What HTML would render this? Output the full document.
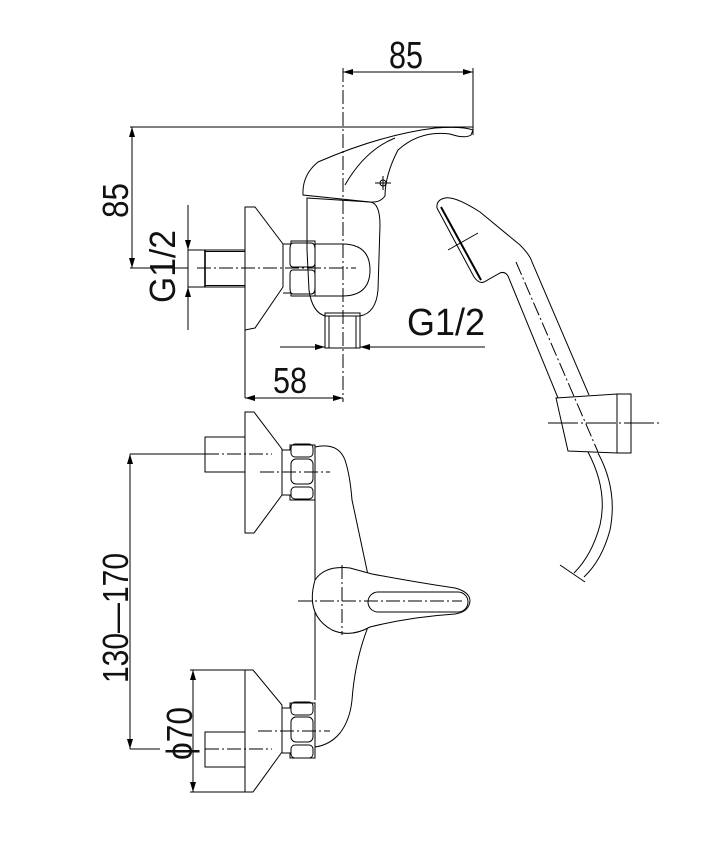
<!DOCTYPE html>
<html><head><meta charset="utf-8"><style>
html,body{margin:0;padding:0;background:#fff;}
svg{display:block;}
text{font-family:"Liberation Sans",sans-serif;fill:#111;}
</style></head><body>
<svg width="702" height="857" viewBox="0 0 702 857" xmlns="http://www.w3.org/2000/svg">
<defs>
<marker id="a" viewBox="0 0 10 6" refX="10" refY="3" markerWidth="10" markerHeight="6" orient="auto-start-reverse" markerUnits="userSpaceOnUse"><path d="M0,0 L10,3 L0,6 Z" fill="#000"/></marker>
</defs>
<g fill="none" stroke="#000" stroke-width="1">
<line x1="343" y1="72" x2="473" y2="72" marker-start="url(#a)" marker-end="url(#a)"/>
<line x1="473" y1="68" x2="473" y2="135"/>
<line x1="343" y1="68" x2="343" y2="402" stroke-dasharray="14,3,2,3"/>
<line x1="130" y1="127" x2="473" y2="127"/>
<line x1="132" y1="127" x2="132" y2="268" marker-start="url(#a)" marker-end="url(#a)"/>
<line x1="130" y1="268" x2="188" y2="268"/>
<line x1="197" y1="268" x2="356" y2="268" stroke-dasharray="14,3,2,3"/>
<line x1="188" y1="205" x2="188" y2="250" marker-end="url(#a)"/>
<line x1="188" y1="330" x2="188" y2="287" marker-end="url(#a)"/>
<rect x="188" y="250" width="57" height="37"/>
<line x1="205" y1="250" x2="205" y2="287" stroke-width="1.6"/>
<line x1="205" y1="251.5" x2="245" y2="251.5"/>
<line x1="205" y1="285.5" x2="245" y2="285.5"/>
<path d="M245,207 L255,207 L283,244 L283,287 L255,328 L245,330 Z"/>
<line x1="245" y1="330" x2="245" y2="398"/>
<path d="M283,244 h8 v-3 h24 v55 h-24 v-3 h-8"/>
<path d="M293,243 h18 q4,0 4,6 v14 q0,4 -4,4 h-18 q-3,0 -3,-4 v-14 q0,-6 3,-6Z"/>
<path d="M293,270 h18 q4,0 4,4 v14 q0,6 -4,6 h-18 q-3,0 -3,-6 v-14 q0,-4 3,-4Z"/>
<path d="M315,244 h27 q28,0 28,26 q0,26 -28,26 h-27"/>
<path d="M307,198 L370,202 Q380,203 380,225 L378,290 Q376,313 360,316 L325,316 Q312,312 309,290 L307,250 Z"/>
<path d="M303,195 Q302,175 318,162 Q380,135 435,128 Q462,126 473,130 L471,135 Q465,139 450,134 Q420,130 398,150 Q385,175 385,196 Q380,203 370,202 Z"/>
<path d="M345,185 Q365,150 395,138"/>
<circle cx="383" cy="183" r="3"/>
<line x1="375" y1="183" x2="391" y2="183"/><line x1="383" y1="176" x2="383" y2="190"/>
<rect x="325" y="313" width="35" height="35"/>
<line x1="329" y1="316" x2="329" y2="348"/><line x1="356" y1="316" x2="356" y2="348"/>
<line x1="280" y1="347" x2="325" y2="347" marker-end="url(#a)"/>
<line x1="485" y1="347" x2="360" y2="347" marker-end="url(#a)"/>
<line x1="245" y1="398" x2="343" y2="398" marker-start="url(#a)" marker-end="url(#a)"/>

<path d="M245,412 L254,412 L282,449 L282,495 L254,533 L245,533 Z"/>
<rect x="205" y="437" width="40" height="35"/>
<line x1="130" y1="454" x2="205" y2="454"/>
<line x1="205" y1="454" x2="272" y2="454" stroke-dasharray="14,3,2,3"/>
<line x1="260" y1="472" x2="330" y2="472" stroke-dasharray="14,3,2,3"/>
<path d="M282,450 h8 v-5 h25 v55 h-25 v-5 h-8"/>
<rect x="291" y="444" width="22" height="13" rx="4"/>
<rect x="291" y="459" width="22" height="25" rx="5"/>
<rect x="291" y="487" width="22" height="12" rx="4"/>
<line x1="315" y1="500" x2="315" y2="700"/>
<path d="M315,447 Q338,442 345,460 Q350,475 352,500 L368,575"/>
<path d="M368,627 Q355,660 352,700 Q350,720 340,733 Q330,745 315,747"/>
<path d="M315,580 Q325,565 350,568 L372,574 Q420,583 455,588 Q470,592 470,601 Q469,612 455,614 Q410,617 370,627 Q350,638 332,630 Q305,615 315,580 Z" fill="#fff"/>
<rect x="368" y="592" width="100" height="20" rx="10"/>
<line x1="298" y1="601" x2="462" y2="601" stroke-dasharray="14,3,2,3"/>
<line x1="342" y1="565" x2="342" y2="635" stroke-dasharray="14,3,2,3"/>
<path d="M190,670 L253,670 L282,705 L282,752 L253,792 L190,792"/>
<line x1="245" y1="670" x2="245" y2="792"/>
<rect x="205" y="732" width="40" height="35"/>
<line x1="130" y1="749" x2="160" y2="749"/>
<line x1="205" y1="749" x2="272" y2="749" stroke-dasharray="14,3,2,3"/>
<line x1="258" y1="731" x2="330" y2="731" stroke-dasharray="14,3,2,3"/>
<path d="M282,708 h8 v-5 h25 v55 h-25 v-5 h-8"/>
<rect x="291" y="702" width="22" height="13" rx="4"/>
<rect x="291" y="717" width="22" height="25" rx="5"/>
<rect x="291" y="745" width="22" height="13" rx="4"/>
<line x1="130" y1="454" x2="130" y2="749" marker-start="url(#a)" marker-end="url(#a)"/>
<line x1="193" y1="670" x2="193" y2="792" marker-start="url(#a)" marker-end="url(#a)"/>

<path d="M437,208 Q436,200 445,198 Q455,196 480,212 L520,245 Q530,255 532,262 L589,395"/>
<path d="M437,208 L474,277 Q479,284 484,282 L500,273 Q505,271 508,276 L558,398"/>
<line x1="441" y1="207" x2="481" y2="280" stroke-width="2"/>
<line x1="448" y1="250" x2="478" y2="233"/>
<line x1="516" y1="262" x2="598" y2="452" stroke-dasharray="14,3,2,3"/>
<path d="M556,398 L617,394 L617,453 L568,451 Z"/>
<rect x="617" y="394" width="14" height="59"/>
<line x1="548" y1="423" x2="660" y2="423" stroke-dasharray="30,3,2,3"/>
<path d="M588,452 Q608,490 600,525 Q592,555 574,573"/>
<path d="M598,453 Q618,490 610,530 Q602,560 584,577"/>
<line x1="560" y1="565" x2="585" y2="582"/>
</g>
<text x="389" y="68" font-size="38" textLength="34" lengthAdjust="spacingAndGlyphs">85</text>
<text x="273" y="393" font-size="36" textLength="34" lengthAdjust="spacingAndGlyphs">58</text>
<text x="407" y="335" font-size="38" textLength="78" lengthAdjust="spacingAndGlyphs">G1/2</text>
<text transform="translate(128,218) rotate(-90)" font-size="36" textLength="35" lengthAdjust="spacingAndGlyphs">85</text>
<text transform="translate(175,303) rotate(-90)" font-size="36" textLength="73" lengthAdjust="spacingAndGlyphs">G1/2</text>
<text transform="translate(128,683) rotate(-90)" font-size="36" textLength="130" lengthAdjust="spacingAndGlyphs">130—170</text>
<text transform="translate(192,760) rotate(-90)" font-size="36" textLength="53" lengthAdjust="spacingAndGlyphs">ϕ70</text>
</svg>
</body></html>
